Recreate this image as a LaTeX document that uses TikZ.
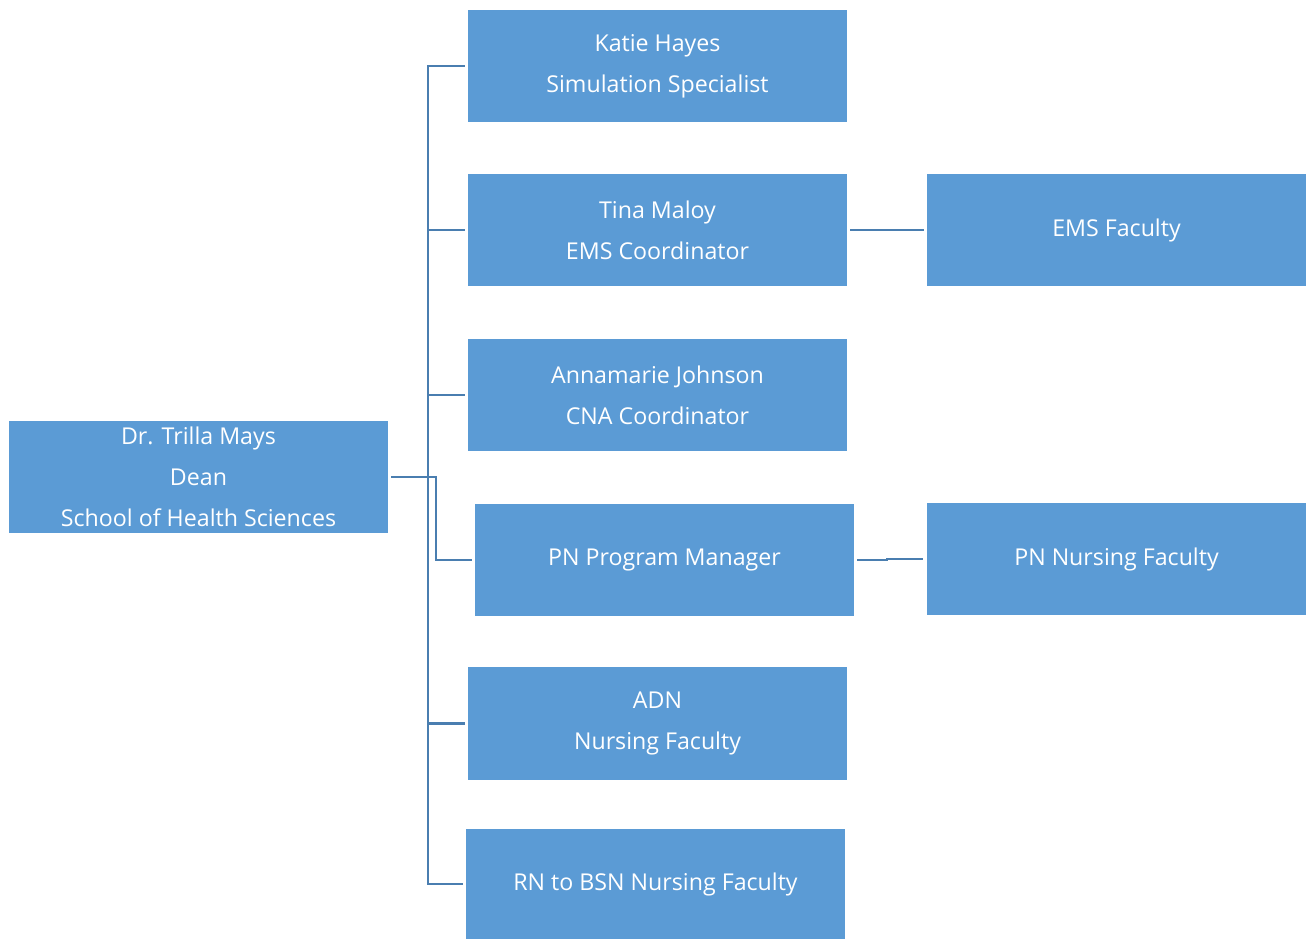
\documentclass[tikz,border=0pt]{standalone}
\usepackage{fontspec}
\setmainfont{Open Sans}
\definecolor{boxblue}{HTML}{5B9BD5}
\definecolor{lineblue}{HTML}{4A7EB0}
\begin{document}
\begin{tikzpicture}[x=0.02cm, y=-0.02cm,
    box/.style={fill=boxblue, draw=none, minimum width=7.58cm, minimum height=2.26cm,
        align=center, text=white, inner sep=0pt, font=\fontsize{13.2}{23.2}\selectfont},
    link/.style={draw=lineblue, line width=1.6pt}]
    \useasboundingbox (0,0) rectangle (1307,939);
    \node[box] (dean) at (198.5,477) {Dr. Trilla Mays\\Dean\\School of Health Sciences};
    \node[box] (katie) at (657.5,66) {Katie Hayes\\Simulation Specialist};
    \node[box] (tina) at (657.5,230) {Tina Maloy\\EMS Coordinator};
    \node[box] (anna) at (657.5,395) {Annamarie Johnson\\CNA Coordinator};
    \node[box] (pnmgr) at (664.5,560) {PN Program Manager};
    \node[box] (adn) at (657.5,723.5) {ADN\\Nursing Faculty};
    \node[box, minimum height=2.2cm] (rnbsn) at (655.5,884) {RN to BSN Nursing Faculty};
    \node[box] (emsfac) at (1116.5,230) {EMS Faculty};
    \node[box] (pnfac) at (1116.5,559) {PN Nursing Faculty};
    \coordinate (trunk) at (428,0);
    \coordinate (elbow) at (436,0);
    \coordinate (step) at (887,0);
    % trunk and branches
    \draw[link] ([xshift=-0.06cm]katie.west) -- (katie.west -| trunk) -- (rnbsn.west -| trunk) -- ([xshift=-0.06cm]rnbsn.west);
    \foreach \n in {tina, anna, adn}
        \draw[link] (\n.west -| trunk) -- ([xshift=-0.06cm]\n.west);
    \draw[link] ([xshift=0.06cm]dean.east) -- (dean.east -| elbow) -- (pnmgr.west -| elbow) -- ([xshift=-0.06cm]pnmgr.west);
    % faculty
    \draw[link] ([xshift=0.06cm]tina.east) -- ([xshift=-0.06cm]emsfac.west);
    \draw[link] ([xshift=0.06cm]pnmgr.east) -- (pnmgr.east -| step) -- (pnfac.west -| step) -- ([xshift=-0.08cm]pnfac.west);
\end{tikzpicture}
\end{document}
